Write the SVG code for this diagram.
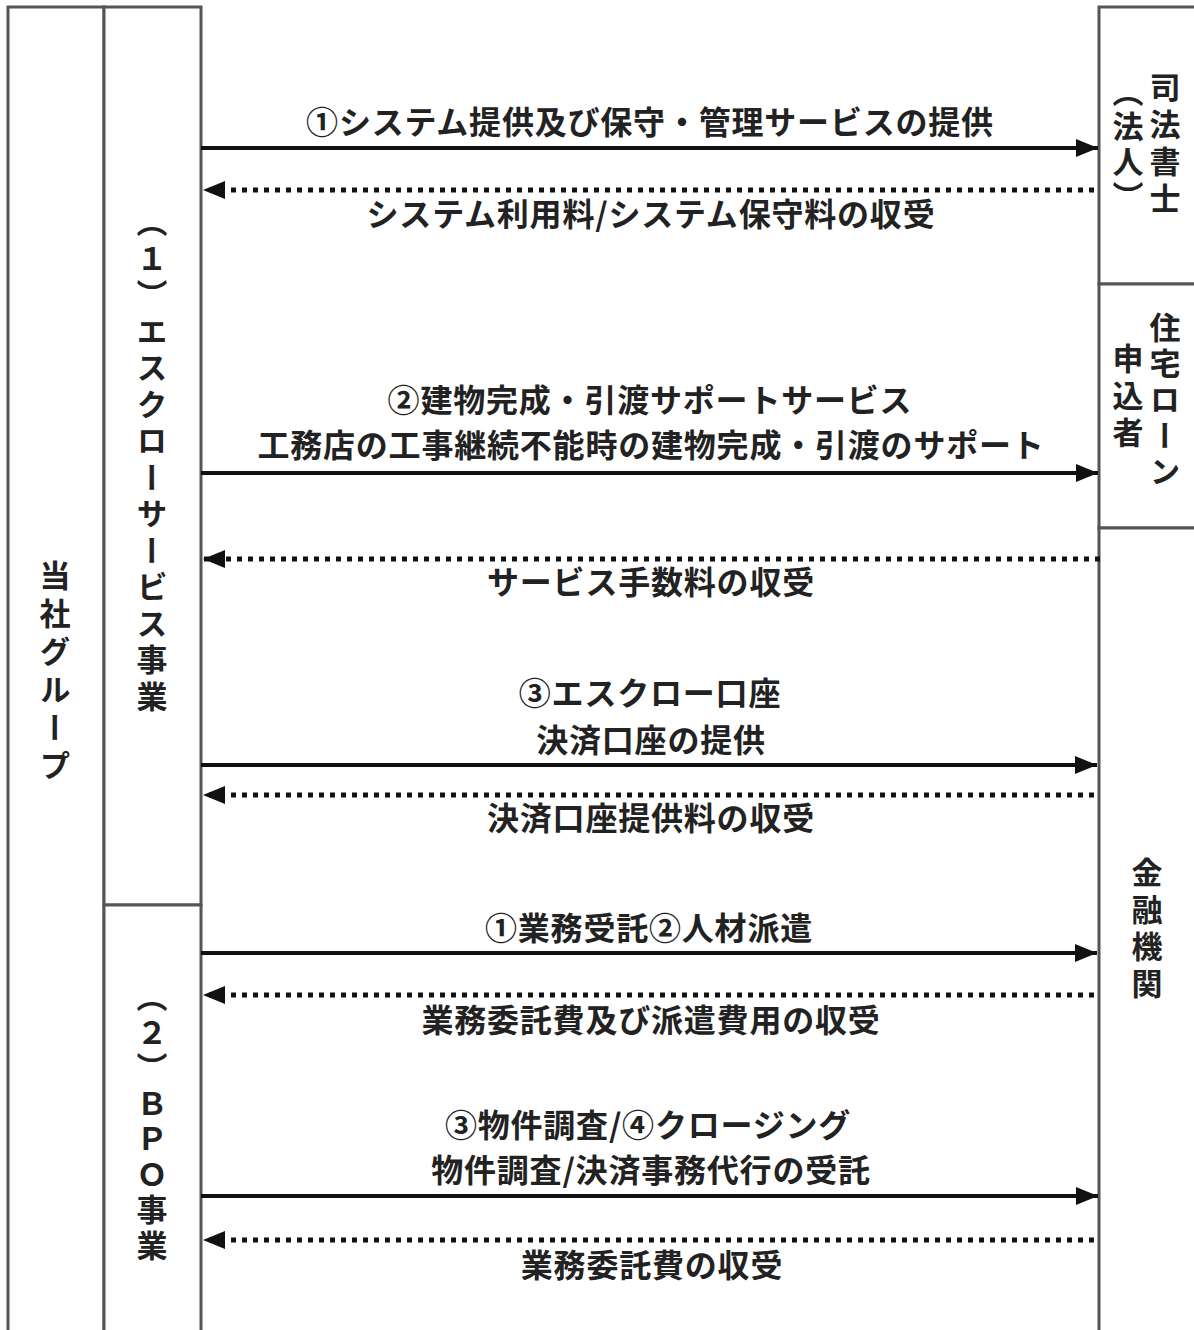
<svg xmlns="http://www.w3.org/2000/svg" width="1194" height="1330" viewBox="0 0 1194 1330">
<style>
.box{fill:#fff;stroke:#555;stroke-width:3}
.lbl{font-family:"Noto Sans CJK JP","Noto Sans CJK SC",sans-serif;font-size:32px;letter-spacing:0.8px;font-weight:700;fill:#222;text-anchor:middle}
.vt{font-family:"Noto Sans CJK JP","Noto Sans CJK SC",sans-serif;font-size:31px;font-weight:700;fill:#222;writing-mode:vertical-rl;text-orientation:mixed}
.solid{stroke:#111;stroke-width:4;fill:none}
.dot{stroke:#111;stroke-width:5;stroke-dasharray:5 6;fill:none}
</style>
<defs>
<marker id="ah" markerUnits="userSpaceOnUse" markerWidth="24" markerHeight="20" refX="22" refY="10" orient="auto">
<path d="M0,1 L22,10 L0,19 Z" fill="#111"/>
</marker>
</defs>
<rect width="1194" height="1330" fill="#fff"/>
<g id="group-company">
<rect class="box" x="8" y="7" width="96" height="1340"/>
<text class="vt" x="55" y="560" style="letter-spacing:7px">当社グループ</text>
</g>
<g id="escrow">
<rect class="box" x="104" y="7" width="97" height="898"/>
<text class="vt" x="152" y="206" style="letter-spacing:5.5px">（１）エスクローサービス事業</text>
</g>
<g id="bpo">
<rect class="box" x="104" y="905" width="97" height="440"/>
<text class="vt" x="152" y="981" style="letter-spacing:4.5px">（２）ＢＰＯ事業</text>
</g>
<g id="shihoshoshi">
<rect class="box" x="1099" y="7" width="110" height="277"/>
<text class="vt" x="1165" y="72" style="letter-spacing:6px">司法書士</text>
<text class="vt" x="1128" y="76" style="letter-spacing:4px">（法人）</text>
</g>
<g id="loan-applicant">
<rect class="box" x="1099" y="284" width="110" height="244"/>
<text class="vt" x="1165" y="312" style="letter-spacing:5px">住宅ローン</text>
<text class="vt" x="1128" y="343" style="letter-spacing:6px">申込者</text>
</g>
<g id="bank">
<rect class="box" x="1099" y="528" width="110" height="820"/>
<text class="vt" x="1147" y="857" style="letter-spacing:6px">金融機関</text>
</g>
<g id="connectors">
<line class="solid" x1="201" y1="148" x2="1098" y2="148" marker-end="url(#ah)"/>
<line class="dot" x1="1094" y1="190" x2="203" y2="190" marker-end="url(#ah)"/>
<line class="solid" x1="201" y1="473" x2="1098" y2="473" marker-end="url(#ah)"/>
<line class="dot" x1="1100" y1="559" x2="203" y2="559" marker-end="url(#ah)"/>
<line class="solid" x1="201" y1="765" x2="1097" y2="765" marker-end="url(#ah)"/>
<line class="dot" x1="1094" y1="795" x2="203" y2="795" marker-end="url(#ah)"/>
<line class="solid" x1="201" y1="953" x2="1097" y2="953" marker-end="url(#ah)"/>
<line class="dot" x1="1094" y1="995" x2="203" y2="995" marker-end="url(#ah)"/>
<line class="solid" x1="201" y1="1196" x2="1098" y2="1196" marker-end="url(#ah)"/>
<line class="dot" x1="1094" y1="1240" x2="203" y2="1240" marker-end="url(#ah)"/>
</g>
<g id="labels">
<text class="lbl" x="650" y="134">①システム提供及び保守・管理サービスの提供</text>
<text class="lbl" x="651" y="226">システム利用料/システム保守料の収受</text>
<text class="lbl" x="650" y="412">②建物完成・引渡サポートサービス</text>
<text class="lbl" x="651" y="457">工務店の工事継続不能時の建物完成・引渡のサポート</text>
<text class="lbl" x="651" y="594">サービス手数料の収受</text>
<text class="lbl" x="650" y="705">③エスクロー口座</text>
<text class="lbl" x="651" y="752">決済口座の提供</text>
<text class="lbl" x="651" y="830">決済口座提供料の収受</text>
<text class="lbl" x="649" y="940">①業務受託②人材派遣</text>
<text class="lbl" x="651" y="1032">業務委託費及び派遣費用の収受</text>
<text class="lbl" x="648" y="1137">③物件調査/④クロージング</text>
<text class="lbl" x="651" y="1182">物件調査/決済事務代行の受託</text>
<text class="lbl" x="652" y="1277">業務委託費の収受</text>
</g>
</svg>
